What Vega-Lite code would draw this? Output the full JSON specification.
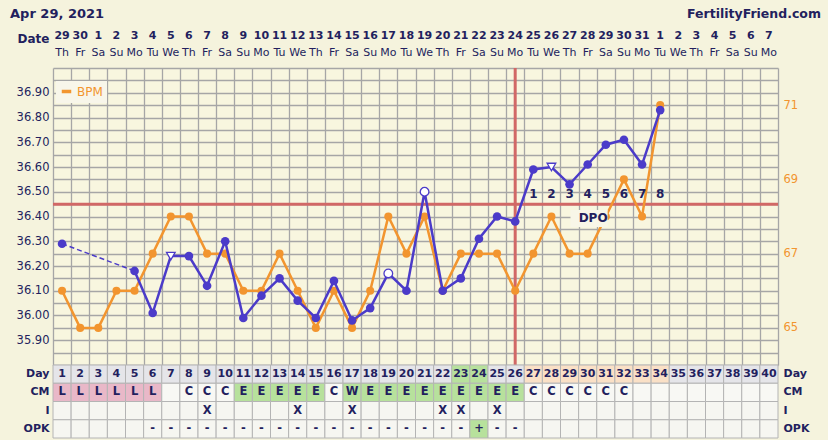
{
  "$schema": "https://vega.github.io/schema/vega-lite/v6.json",
  "autosize": {"type": "none"},
  "padding": {"left": 53, "top": 68, "right": 50, "bottom": 75},
  "width": 725,
  "height": 297,
  "background": "#F5F3DD",
  "config": {
    "font": "DejaVu Sans",
    "view": {"stroke": null, "fill": "#F8F6DF"}
  },
  "datasets": {
    "days": [
      {"day": 1, "date": "29", "dow": "Th", "temp": 36.29, "bpm": 66, "flag": "regular", "dpo": null, "hl": "none", "cm": "L", "sex": "", "opk": ""},
      {"day": 2, "date": "30", "dow": "Fr", "temp": null, "bpm": 65, "flag": null, "dpo": null, "hl": "none", "cm": "L", "sex": "", "opk": ""},
      {"day": 3, "date": "1", "dow": "Sa", "temp": null, "bpm": 65, "flag": null, "dpo": null, "hl": "none", "cm": "L", "sex": "", "opk": ""},
      {"day": 4, "date": "2", "dow": "Su", "temp": null, "bpm": 66, "flag": null, "dpo": null, "hl": "none", "cm": "L", "sex": "", "opk": ""},
      {"day": 5, "date": "3", "dow": "Mo", "temp": 36.18, "bpm": 66, "flag": "regular", "dpo": null, "hl": "none", "cm": "L", "sex": "", "opk": ""},
      {"day": 6, "date": "4", "dow": "Tu", "temp": 36.01, "bpm": 67, "flag": "regular", "dpo": null, "hl": "none", "cm": "L", "sex": "", "opk": "-"},
      {"day": 7, "date": "5", "dow": "We", "temp": 36.24, "bpm": 68, "flag": "adjusted", "dpo": null, "hl": "none", "cm": "", "sex": "", "opk": "-"},
      {"day": 8, "date": "6", "dow": "Th", "temp": 36.24, "bpm": 68, "flag": "regular", "dpo": null, "hl": "none", "cm": "C", "sex": "", "opk": "-"},
      {"day": 9, "date": "7", "dow": "Fr", "temp": 36.12, "bpm": 67, "flag": "regular", "dpo": null, "hl": "none", "cm": "C", "sex": "X", "opk": "-"},
      {"day": 10, "date": "8", "dow": "Sa", "temp": 36.30, "bpm": 67, "flag": "regular", "dpo": null, "hl": "none", "cm": "C", "sex": "", "opk": "-"},
      {"day": 11, "date": "9", "dow": "Su", "temp": 35.99, "bpm": 66, "flag": "regular", "dpo": null, "hl": "none", "cm": "E", "sex": "", "opk": "-"},
      {"day": 12, "date": "10", "dow": "Mo", "temp": 36.08, "bpm": 66, "flag": "regular", "dpo": null, "hl": "none", "cm": "E", "sex": "", "opk": "-"},
      {"day": 13, "date": "11", "dow": "Tu", "temp": 36.15, "bpm": 67, "flag": "regular", "dpo": null, "hl": "none", "cm": "E", "sex": "", "opk": "-"},
      {"day": 14, "date": "12", "dow": "We", "temp": 36.06, "bpm": 66, "flag": "regular", "dpo": null, "hl": "none", "cm": "E", "sex": "X", "opk": "-"},
      {"day": 15, "date": "13", "dow": "Th", "temp": 35.99, "bpm": 65, "flag": "regular", "dpo": null, "hl": "none", "cm": "E", "sex": "", "opk": "-"},
      {"day": 16, "date": "14", "dow": "Fr", "temp": 36.14, "bpm": 66, "flag": "regular", "dpo": null, "hl": "none", "cm": "C", "sex": "", "opk": "-"},
      {"day": 17, "date": "15", "dow": "Sa", "temp": 35.98, "bpm": 65, "flag": "regular", "dpo": null, "hl": "none", "cm": "W", "sex": "X", "opk": "-"},
      {"day": 18, "date": "16", "dow": "Su", "temp": 36.03, "bpm": 66, "flag": "regular", "dpo": null, "hl": "none", "cm": "E", "sex": "", "opk": "-"},
      {"day": 19, "date": "17", "dow": "Mo", "temp": 36.17, "bpm": 68, "flag": "discarded", "dpo": null, "hl": "none", "cm": "E", "sex": "", "opk": "-"},
      {"day": 20, "date": "18", "dow": "Tu", "temp": 36.10, "bpm": 67, "flag": "regular", "dpo": null, "hl": "none", "cm": "E", "sex": "", "opk": "-"},
      {"day": 21, "date": "19", "dow": "We", "temp": 36.50, "bpm": 68, "flag": "discarded", "dpo": null, "hl": "none", "cm": "E", "sex": "", "opk": "-"},
      {"day": 22, "date": "20", "dow": "Th", "temp": 36.10, "bpm": 66, "flag": "regular", "dpo": null, "hl": "none", "cm": "E", "sex": "X", "opk": "-"},
      {"day": 23, "date": "21", "dow": "Fr", "temp": 36.15, "bpm": 67, "flag": "regular", "dpo": null, "hl": "fertile", "cm": "E", "sex": "X", "opk": "-"},
      {"day": 24, "date": "22", "dow": "Sa", "temp": 36.31, "bpm": 67, "flag": "regular", "dpo": null, "hl": "fertile", "cm": "E", "sex": "", "opk": "+"},
      {"day": 25, "date": "23", "dow": "Su", "temp": 36.40, "bpm": 67, "flag": "regular", "dpo": null, "hl": "none", "cm": "E", "sex": "X", "opk": "-"},
      {"day": 26, "date": "24", "dow": "Mo", "temp": 36.38, "bpm": 66, "flag": "regular", "dpo": null, "hl": "none", "cm": "E", "sex": "", "opk": "-"},
      {"day": 27, "date": "25", "dow": "Tu", "temp": 36.59, "bpm": 67, "flag": "regular", "dpo": 1, "hl": "luteal", "cm": "C", "sex": "", "opk": ""},
      {"day": 28, "date": "26", "dow": "We", "temp": 36.60, "bpm": 68, "flag": "adjusted", "dpo": 2, "hl": "luteal", "cm": "C", "sex": "", "opk": ""},
      {"day": 29, "date": "27", "dow": "Th", "temp": 36.53, "bpm": 67, "flag": "regular", "dpo": 3, "hl": "luteal", "cm": "C", "sex": "", "opk": ""},
      {"day": 30, "date": "28", "dow": "Fr", "temp": 36.61, "bpm": 67, "flag": "regular", "dpo": 4, "hl": "luteal", "cm": "C", "sex": "", "opk": ""},
      {"day": 31, "date": "29", "dow": "Sa", "temp": 36.69, "bpm": 68, "flag": "regular", "dpo": 5, "hl": "luteal", "cm": "C", "sex": "", "opk": ""},
      {"day": 32, "date": "30", "dow": "Su", "temp": 36.71, "bpm": 69, "flag": "regular", "dpo": 6, "hl": "luteal", "cm": "C", "sex": "", "opk": ""},
      {"day": 33, "date": "31", "dow": "Mo", "temp": 36.61, "bpm": 68, "flag": "regular", "dpo": 7, "hl": "luteal", "cm": "", "sex": "", "opk": ""},
      {"day": 34, "date": "1", "dow": "Tu", "temp": 36.83, "bpm": 71, "flag": "regular", "dpo": 8, "hl": "luteal", "cm": "", "sex": "", "opk": ""},
      {"day": 35, "date": "2", "dow": "We", "temp": null, "bpm": null, "flag": null, "dpo": null, "hl": "none", "cm": "", "sex": "", "opk": ""},
      {"day": 36, "date": "3", "dow": "Th", "temp": null, "bpm": null, "flag": null, "dpo": null, "hl": "none", "cm": "", "sex": "", "opk": ""},
      {"day": 37, "date": "4", "dow": "Fr", "temp": null, "bpm": null, "flag": null, "dpo": null, "hl": "none", "cm": "", "sex": "", "opk": ""},
      {"day": 38, "date": "5", "dow": "Sa", "temp": null, "bpm": null, "flag": null, "dpo": null, "hl": "none", "cm": "", "sex": "", "opk": ""},
      {"day": 39, "date": "6", "dow": "Su", "temp": null, "bpm": null, "flag": null, "dpo": null, "hl": "none", "cm": "", "sex": "", "opk": ""},
      {"day": 40, "date": "7", "dow": "Mo", "temp": null, "bpm": null, "flag": null, "dpo": null, "hl": "none", "cm": "", "sex": "", "opk": ""}
    ]
  },
  "data": {"name": "days"},
  "layer": [
    {
      "layer": [
        {
          "data": {"values": [{}]},
          "mark": {"type": "rule", "color": "#D16866", "strokeWidth": 3},
          "encoding": {
            "y": {"datum": 36.45, "type": "quantitative", "scale": {"domain": [35.8, 37.0], "nice": false, "zero": false},
              "axis": {"title": null, "values": [35.8, 35.85, 35.9, 35.95, 36.0, 36.05, 36.1, 36.15, 36.2, 36.25, 36.3, 36.35, 36.4, 36.45, 36.5, 36.55, 36.6, 36.65, 36.7, 36.75, 36.8, 36.85, 36.9, 36.95, 37.0],
                "grid": true, "gridColor": "#A6A6A6", "gridWidth": 1.3, "ticks": false, "domain": false,
                "labelExpr": "(datum.value > 35.86 && datum.value < 36.94 && abs(datum.value * 10 - round(datum.value * 10)) < 0.01) ? format(datum.value, '.2f') : ''",
                "labelColor": "#231F5E", "labelFontSize": 11.5, "labelPadding": 4}}
          }
        },
        {
          "data": {"values": [{}]},
          "mark": {"type": "rule", "color": "#D16866", "strokeWidth": 3},
          "encoding": {
            "x": {"datum": 26, "type": "quantitative", "scale": {"domain": [0.5, 40.5], "nice": false, "zero": false},
              "axis": {"title": null, "values": [0.5, 1.5, 2.5, 3.5, 4.5, 5.5, 6.5, 7.5, 8.5, 9.5, 10.5, 11.5, 12.5, 13.5, 14.5, 15.5, 16.5, 17.5, 18.5, 19.5, 20.5, 21.5, 22.5, 23.5, 24.5, 25.5, 26.5, 27.5, 28.5, 29.5, 30.5, 31.5, 32.5, 33.5, 34.5, 35.5, 36.5, 37.5, 38.5, 39.5, 40.5],
                "grid": true, "gridColor": "#A6A6A6", "gridWidth": 1.3, "ticks": false, "domain": false, "labels": false}}
          }
        }
      ]
    },
    {
      "transform": [{"filter": "isValid(datum.bpm)"}],
      "encoding": {
        "x": {"field": "day", "type": "quantitative", "scale": {"domain": [0.5, 40.5], "nice": false, "zero": false}, "axis": null},
        "y": {"field": "bpm", "type": "quantitative", "scale": {"domain": [64, 72], "nice": false, "zero": false},
          "axis": {"orient": "right", "title": null, "values": [65, 67, 69, 71], "grid": false, "ticks": false, "domain": false, "labelColor": "#F2952F", "labelFontSize": 11.5, "labelPadding": 5}}
      },
      "layer": [
        {
          "mark": {"type": "line", "strokeWidth": 2.5},
          "encoding": {
            "color": {"datum": "BPM", "type": "nominal", "scale": {"range": ["#F2952F"]},
              "legend": {"orient": "none", "legendX": 3, "legendY": 13, "title": null, "symbolType": "stroke", "symbolStrokeWidth": 3.5, "symbolSize": 90, "labelColor": "#F2952F", "labelFontSize": 12, "fillColor": "#F8F6EA", "padding": 4}}
          }
        },
        {
          "mark": {"type": "point", "filled": true, "opacity": 1, "size": 65, "color": "#F2952F"}
        }
      ]
    },
    {
      "layer": [
        {
          "data": {"values": [{}]},
          "mark": {"type": "rect", "color": "#F8F6E8"},
          "encoding": {
            "x": {"datum": 29.05, "type": "quantitative", "scale": {"domain": [0.5, 40.5], "nice": false, "zero": false}, "axis": null},
            "x2": {"datum": 31.1},
            "y": {"datum": 36.358, "type": "quantitative", "scale": {"domain": [35.8, 37.0], "nice": false, "zero": false}, "axis": null},
            "y2": {"datum": 36.426}
          }
        },
        {
          "data": {"values": [{}]},
          "mark": {"type": "text", "text": "DPO", "fontWeight": "bold", "fontSize": 12, "color": "#231F5E"},
          "encoding": {
            "x": {"datum": 30.3, "type": "quantitative", "axis": null},
            "y": {"datum": 36.392, "type": "quantitative", "axis": null}
          }
        }
      ]
    },
    {
      "encoding": {
        "x": {"field": "day", "type": "quantitative", "scale": {"domain": [0.5, 40.5], "nice": false, "zero": false}, "axis": null},
        "y": {"field": "temp", "type": "quantitative", "scale": {"domain": [35.8, 37.0], "nice": false, "zero": false}, "axis": null}
      },
      "layer": [
        {
          "transform": [{"filter": "isValid(datum.temp) && datum.day <= 5"}],
          "mark": {"type": "line", "color": "#4B3BC9", "strokeWidth": 1.5, "strokeDash": [5, 3]}
        },
        {
          "transform": [{"filter": "isValid(datum.temp) && datum.day >= 5"}],
          "mark": {"type": "line", "color": "#4B3BC9", "strokeWidth": 2.5}
        },
        {
          "transform": [{"filter": "datum.flag == 'regular'"}],
          "mark": {"type": "point", "filled": true, "opacity": 1, "size": 75, "color": "#4B3BC9"}
        },
        {
          "transform": [{"filter": "datum.flag == 'discarded' || datum.flag == 'adjusted'"}],
          "mark": {"type": "point", "filled": true, "opacity": 1, "size": 75, "fill": "#FFFFFF", "stroke": "#4B3BC9", "strokeWidth": 1.3},
          "encoding": {
            "shape": {"field": "flag", "type": "nominal", "scale": {"domain": ["discarded", "adjusted"], "range": ["circle", "triangle-down"]}, "legend": null}
          }
        },
        {
          "transform": [{"filter": "isValid(datum.dpo)"}],
          "mark": {"type": "text", "fontWeight": "bold", "fontSize": 12, "color": "#231F5E"},
          "encoding": {
            "y": {"datum": 36.49, "type": "quantitative", "axis": null},
            "text": {"field": "dpo"}
          }
        }
      ]
    },
    {
      "layer": [
        {
          "mark": {"type": "text", "fontWeight": "bold", "fontSize": 11, "color": "#231F5E", "dy": 2},
          "encoding": {
            "x": {"field": "day", "type": "quantitative", "scale": {"domain": [0.5, 40.5], "nice": false, "zero": false}, "axis": null},
            "y": {"datum": "date", "type": "nominal", "scale": {"type": "band", "domain": ["title", "date", "dow"], "range": [-68, 0], "paddingInner": 0, "paddingOuter": 0},
              "axis": {"title": null, "domain": false, "ticks": false, "grid": false, "labelExpr": "datum.value == 'date' ? 'Date' : ''", "labelFontWeight": "bold", "labelFontSize": 12, "labelColor": "#231F5E", "labelPadding": 4, "labelOffset": 5}},
            "text": {"field": "date"}
          }
        },
        {
          "mark": {"type": "text", "fontSize": 11, "color": "#231F5E", "dy": -4},
          "encoding": {
            "x": {"field": "day", "type": "quantitative", "axis": null},
            "y": {"datum": "dow", "type": "nominal",
              "axis": {"title": null, "domain": false, "ticks": false, "grid": false, "labelExpr": "datum.value == 'date' ? 'Date' : ''", "labelFontWeight": "bold", "labelFontSize": 12, "labelColor": "#231F5E", "labelPadding": 4, "labelOffset": 5}},
            "text": {"field": "dow"}
          }
        },
        {
          "data": {"values": [{}]},
          "mark": {"type": "text", "text": "Apr 29, 2021", "fontWeight": "bold", "fontSize": 13, "color": "#231F5E", "align": "left", "dy": 3},
          "encoding": {
            "x": {"datum": -1.87, "type": "quantitative", "axis": null},
            "y": {"datum": "title", "type": "nominal",
              "axis": {"title": null, "domain": false, "ticks": false, "grid": false, "labelExpr": "datum.value == 'date' ? 'Date' : ''", "labelFontWeight": "bold", "labelFontSize": 12, "labelColor": "#231F5E", "labelPadding": 4, "labelOffset": 5}}
          }
        },
        {
          "data": {"values": [{}]},
          "mark": {"type": "text", "text": "FertilityFriend.com", "fontWeight": "bold", "fontSize": 12.5, "color": "#231F5E", "align": "right", "dy": 3},
          "encoding": {
            "x": {"datum": 42.87, "type": "quantitative", "axis": null},
            "y": {"datum": "title", "type": "nominal",
              "axis": {"title": null, "domain": false, "ticks": false, "grid": false, "labelExpr": "datum.value == 'date' ? 'Date' : ''", "labelFontWeight": "bold", "labelFontSize": 12, "labelColor": "#231F5E", "labelPadding": 4, "labelOffset": 5}}
          }
        }
      ]
    },
    {
      "encoding": {
        "x": {"field": "day", "type": "ordinal", "scale": {"type": "band", "paddingInner": 0, "paddingOuter": 0}, "axis": null}
      },
      "layer": [
        {
          "mark": {"type": "rect", "stroke": "#B4B4B4", "strokeWidth": 1},
          "encoding": {
            "y": {"datum": "Day", "type": "nominal", "scale": {"type": "band", "domain": ["Day", "CM", "I", "OPK"], "range": [297, 370], "paddingInner": 0, "paddingOuter": 0},
              "axis": {"orient": "left", "title": null, "domain": false, "ticks": false, "grid": false, "labelFontWeight": "bold", "labelFontSize": 11, "labelColor": "#231F5E", "labelPadding": 4}},
            "fill": {"condition": [{"test": "datum.hl == 'fertile'", "value": "#B7E19C"}, {"test": "datum.hl == 'luteal'", "value": "#FAE0C6"}], "value": "#E5E5E9"}
          }
        },
        {
          "mark": {"type": "rect", "stroke": "#B4B4B4", "strokeWidth": 1},
          "encoding": {
            "y": {"datum": "CM", "type": "nominal", "axis": {"orient": "right", "title": null, "domain": false, "ticks": false, "grid": false, "labelFontWeight": "bold", "labelFontSize": 11, "labelColor": "#231F5E", "labelPadding": 5}},
            "fill": {"condition": [{"test": "datum.cm == 'L'", "value": "#E9B8C8"}, {"test": "datum.cm == 'E' || datum.cm == 'W'", "value": "#B7E19C"}], "value": "#F8F8F4"}
          }
        },
        {
          "mark": {"type": "rect", "stroke": "#B4B4B4", "strokeWidth": 1, "fill": "#F6F6F1"},
          "encoding": {"y": {"datum": "I", "type": "nominal", "axis": null}}
        },
        {
          "mark": {"type": "rect", "stroke": "#B4B4B4", "strokeWidth": 1},
          "encoding": {
            "y": {"datum": "OPK", "type": "nominal", "axis": null},
            "fill": {"condition": [{"test": "datum.opk == '+'", "value": "#B7E19C"}], "value": "#F6F6F1"}
          }
        },
        {
          "mark": {"type": "text", "fontWeight": "bold", "fontSize": 11, "color": "#231F5E"},
          "encoding": {"y": {"datum": "Day", "type": "nominal", "axis": null}, "text": {"field": "day"}}
        },
        {
          "mark": {"type": "text", "fontWeight": "bold", "fontSize": 11.5, "color": "#231F5E"},
          "encoding": {"y": {"datum": "CM", "type": "nominal", "axis": null}, "text": {"field": "cm"}}
        },
        {
          "mark": {"type": "text", "fontWeight": "bold", "fontSize": 11.5, "color": "#231F5E"},
          "encoding": {"y": {"datum": "I", "type": "nominal", "axis": null}, "text": {"field": "sex"}}
        },
        {
          "mark": {"type": "text", "fontWeight": "bold", "fontSize": 11.5, "color": "#231F5E"},
          "encoding": {"y": {"datum": "OPK", "type": "nominal", "axis": null}, "text": {"field": "opk"}}
        }
      ],
      "resolve": {"axis": {"y": "independent"}}
    }
  ],
  "resolve": {"scale": {"x": "independent", "y": "independent"}, "axis": {"x": "independent", "y": "independent"}}
}
